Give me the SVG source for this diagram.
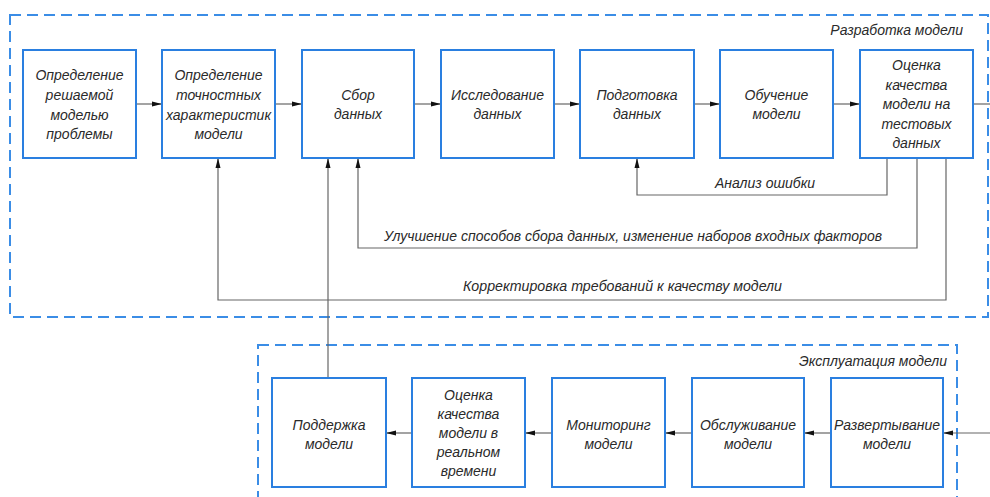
<svg xmlns="http://www.w3.org/2000/svg" width="990" height="497" viewBox="0 0 990 497">
<defs>
<style>
.frame{fill:none;stroke:#3b8de6;stroke-width:2;stroke-dasharray:11 6}
.box rect{fill:#fff;stroke:#2a7fe0;stroke-width:2}
text{font-family:"Liberation Sans",Arial,sans-serif;font-style:italic;font-size:14px;fill:#2a2a2a}
.box text{text-anchor:middle}
.con path{fill:none;stroke:#666;stroke-width:1.2}
.arr{marker-end:url(#ah)}
</style>
<marker id="ah" viewBox="0 0 10 6" refX="10" refY="3" markerWidth="10" markerHeight="6" markerUnits="userSpaceOnUse" orient="auto">
<path d="M0,0.5 L10,3 L0,5.5 Z" fill="#111"/>
</marker>
</defs>
<rect width="990" height="497" fill="#fff"/>
<rect class="frame" x="10" y="15" width="978" height="302"/>
<text x="963" y="35" text-anchor="end">Разработка модели</text>
<rect class="frame" x="258" y="345" width="699" height="170"/>
<text x="947" y="366" text-anchor="end">Эксплуатация модели</text>

<g class="con">
<path class="arr" d="M136 104 H162"/>
<path class="arr" d="M275 104 H302"/>
<path class="arr" d="M414 104 H441"/>
<path class="arr" d="M554 104 H580"/>
<path class="arr" d="M694 104 H720"/>
<path class="arr" d="M833 104 H860"/>
<path d="M973 104 H990"/>
<path class="arr" d="M887 158 V195 H637 V158"/>
<path class="arr" d="M917 158 V248 H358 V158"/>
<path class="arr" d="M946 158 V300 H218 V158"/>
<path class="arr" d="M328 378 V158"/>
<path class="arr" d="M990 433 H943"/>
<path class="arr" d="M831 433 H804"/>
<path class="arr" d="M692 433 H665"/>
<path class="arr" d="M552 433 H525"/>
<path class="arr" d="M412 433 H386"/>
</g>
<text x="765" y="188" text-anchor="middle">Анализ ошибки</text>
<text x="384" y="241" textLength="498" lengthAdjust="spacingAndGlyphs">Улучшение способов сбора данных, изменение наборов входных факторов</text>
<text x="463" y="291" textLength="319" lengthAdjust="spacingAndGlyphs">Корректировка требований к качеству модели</text>

<g id="n1" class="box"><rect x="23" y="50" width="113" height="108"/>
<text x="79.5" y="80">Определение</text><text x="79.5" y="100">решаемой</text><text x="79.5" y="120">моделью</text><text x="79.5" y="139">проблемы</text></g>
<g id="n2" class="box"><rect x="162" y="50" width="113" height="108"/>
<text x="218.5" y="80">Определение</text><text x="218.5" y="100">точностных</text><text x="218.5" y="120">характеристик</text><text x="218.5" y="139">модели</text></g>
<g id="n3" class="box"><rect x="302" y="50" width="112" height="108"/>
<text x="358" y="100">Сбор</text><text x="358" y="119">данных</text></g>
<g id="n4" class="box"><rect x="441" y="50" width="113" height="108"/>
<text x="497.5" y="100">Исследование</text><text x="497.5" y="119">данных</text></g>
<g id="n5" class="box"><rect x="580" y="50" width="114" height="108"/>
<text x="637" y="100">Подготовка</text><text x="637" y="119">данных</text></g>
<g id="n6" class="box"><rect x="720" y="50" width="113" height="108"/>
<text x="776.5" y="100">Обучение</text><text x="776.5" y="119">модели</text></g>
<g id="n7" class="box"><rect x="860" y="50" width="113" height="108"/>
<text x="916.5" y="70">Оценка</text><text x="916.5" y="90">качества</text><text x="916.5" y="109">модели на</text><text x="916.5" y="129">тестовых</text><text x="916.5" y="148">данных</text></g>

<g id="m1" class="box"><rect x="272" y="378" width="114" height="109"/>
<text x="329" y="430">Поддержка</text><text x="329" y="449">модели</text></g>
<g id="m2" class="box"><rect x="412" y="378" width="113" height="109"/>
<text x="468.5" y="400">Оценка</text><text x="468.5" y="419">качества</text><text x="468.5" y="438">модели в</text><text x="468.5" y="457">реальном</text><text x="468.5" y="476">времени</text></g>
<g id="m3" class="box"><rect x="552" y="378" width="113" height="109"/>
<text x="608.5" y="430">Мониторинг</text><text x="608.5" y="449">модели</text></g>
<g id="m4" class="box"><rect x="692" y="378" width="112" height="109"/>
<text x="748" y="430">Обслуживание</text><text x="748" y="449">модели</text></g>
<g id="m5" class="box"><rect x="831" y="378" width="112" height="109"/>
<text x="887" y="430">Развертывание</text><text x="887" y="449">модели</text></g>
</svg>
